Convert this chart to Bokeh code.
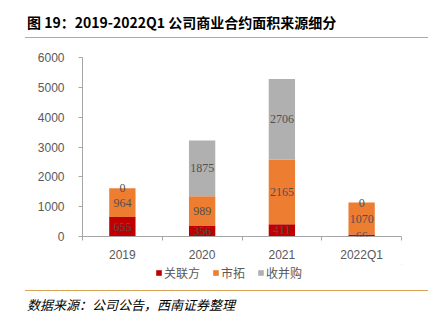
from bokeh.plotting import figure
from bokeh.models import (ColumnDataSource, LabelSet, Legend, LegendItem, FixedTicker,
                          Range1d, Div)
from bokeh.layouts import column
from bokeh.embed import file_html
from bokeh.resources import INLINE

categories = ["2019", "2020", "2021", "2022Q1"]
related = [655, 356, 411, 66]      # 关联方
market = [964, 989, 2165, 1070]    # 市拓
acquire = [0, 1875, 2706, 0]       # 收并购
series_names = ["关联方", "市拓", "收并购"]
colors = ["#c00000", "#ed7d31", "#b0b0b0"]
y_ticks = [0, 1000, 2000, 3000, 4000, 5000, 6000]

TXT = "#595959"
FONT = "Liberation Sans"
CJK = "Noto Sans CJK SC"

xs = [i + 0.5 for i in range(len(categories))]
src = ColumnDataSource(dict(x=xs, related=related, market=market, acquire=acquire))

p = figure(width=433, height=224, output_backend="svg", toolbar_location=None,
           x_range=Range1d(0, len(categories)), y_range=Range1d(0, 6000),
           min_border_left=82, min_border_right=32, min_border_top=17, min_border_bottom=28,
           margin=(0, 0, 0, 0))
p.outline_line_color = None
p.xgrid.visible = False
p.ygrid.visible = False

rs = p.vbar_stack(["related", "market", "acquire"], x="x", width=0.33, source=src,
                  color=colors, line_color=None)

# labels at segment centers
stacks = [related, market, acquire]
lx, ly, lt = [], [], []
for i in range(len(categories)):
    base = 0
    for s in stacks:
        v = s[i]
        lx.append(xs[i]); ly.append(base + v / 2); lt.append(str(v))
        base += v
lsrc = ColumnDataSource(dict(x=lx, y=ly, t=lt))
p.add_layout(LabelSet(x="x", y="y", text="t", source=lsrc, text_align="center",
                      text_baseline="middle", text_color="#505050", text_font_size="12px",
                      text_font=FONT))

# axes
xa = p.xaxis[0]
xa.ticker = FixedTicker(ticks=xs, minor_ticks=list(range(len(categories) + 1)))
xa.major_label_overrides = {x: c for x, c in zip(xs, categories)}
xa.major_tick_out = 0
xa.major_tick_in = 0
xa.minor_tick_out = 4
xa.minor_tick_in = 0
xa.minor_tick_line_color = "#a6a6a6"
xa.axis_line_color = "#a6a6a6"
xa.major_label_text_color = TXT
xa.major_label_text_font = FONT
xa.major_label_text_font_size = "12px"
xa.major_label_standoff = 7

ya = p.yaxis[0]
ya.ticker = FixedTicker(ticks=y_ticks)
ya.major_tick_out = 4
ya.major_tick_in = 0
ya.minor_tick_line_color = None
ya.major_tick_line_color = "#a6a6a6"
ya.axis_line_color = "#a6a6a6"
ya.major_label_text_color = TXT
ya.major_label_text_font = FONT
ya.major_label_text_font_size = "12px"
ya.major_label_standoff = 14

# legend strip (legend swatches come from off-range proxy bars)
pl = figure(width=433, height=26, output_backend="svg", toolbar_location=None,
            x_range=Range1d(0, 1), y_range=Range1d(0, 1), x_axis_type=None, y_axis_type=None,
            min_border_left=0, min_border_right=0, min_border_top=0, min_border_bottom=0,
            margin=(0, 0, 0, 0))
pl.outline_line_color = None
pl.xgrid.visible = False
pl.ygrid.visible = False
dummies = [pl.vbar(x=[10], bottom=[10], top=[11], width=1, color=c, line_color=None)
           for c in colors]
legend = Legend(items=[LegendItem(label=n, renderers=[r]) for n, r in zip(series_names, dummies)],
                orientation="horizontal", location=(73, 9))
legend.border_line_color = None
legend.background_fill_alpha = 0
legend.padding = 0
legend.margin = 0
legend.glyph_width = 7
legend.glyph_height = 7
legend.label_height = 14
legend.label_standoff = 2
legend.spacing = 12
legend.label_text_font = CJK
legend.label_text_font_size = "12px"
legend.label_text_color = TXT
pl.add_layout(legend, "center")

title = Div(text=('<div style="width:403px;height:38px;box-sizing:border-box;'
                  'border-bottom:1.5px solid #d9a35a;padding:14px 0 0 2px;'
                  'font-family:\'Noto Sans CJK SC\',\'Liberation Sans\';font-weight:bold;'
                  'font-size:14px;line-height:16px;color:#000;white-space:nowrap;">'
                  '图 19：2019-2022Q1 公司商业合约面积来源细分</div>'),
            width=408, height=40, margin=(0, 0, 0, 25))
source = Div(text=('<div style="width:403px;height:32px;box-sizing:border-box;'
                   'border-top:1.5px solid #d9a35a;padding:6px 0 0 2px;'
                   'font-family:\'Noto Sans CJK SC\';font-style:italic;'
                   'font-size:13px;line-height:16px;color:#000;white-space:nowrap;">'
                   '数据来源：公司公告，西南证券整理</div>'),
             width=408, height=33, margin=(0, 0, 0, 25))

layout = column(title, p, pl, source, margin=(0, 0, 0, 0), spacing=0)
open("out.html", "w").write(file_html(layout, INLINE))
